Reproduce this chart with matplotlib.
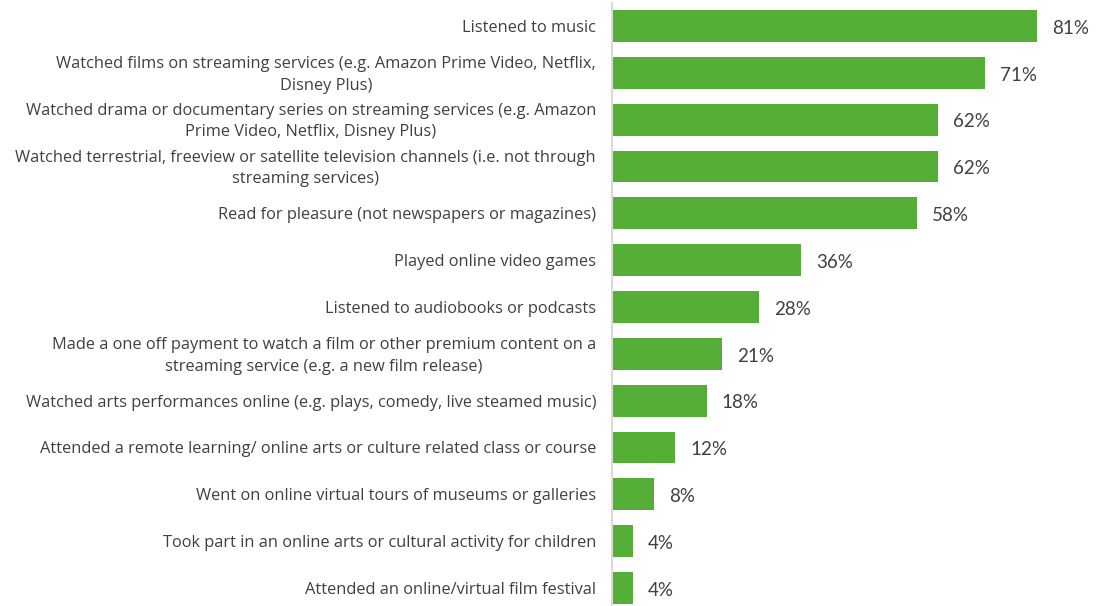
import numpy as np
import matplotlib.pyplot as plt

plt.close('all')

#%% Survey data (share of respondents, %)
activities = [
    'Listened to music',
    'Watched films on streaming services (e.g. Amazon Prime Video, Netflix,\nDisney Plus)',
    'Watched drama or documentary series on streaming services (e.g. Amazon\nPrime Video, Netflix, Disney Plus)',
    'Watched terrestrial, freeview or satellite television channels (i.e. not through\nstreaming services)',
    'Read for pleasure (not newspapers or magazines)',
    'Played online video games',
    'Listened to audiobooks or podcasts',
    'Made a one off payment to watch a film or other premium content on a\nstreaming service (e.g. a new film release)',
    'Watched arts performances online (e.g. plays, comedy, live steamed music)',
    'Attended a remote learning/ online arts or culture related class or course',
    'Went on online virtual tours of museums or galleries',
    'Took part in an online arts or cultural activity for children',
    'Attended an online/virtual film festival',
]
share = [81, 71, 62, 62, 58, 36, 28, 21, 18, 12, 8, 4, 4]

bar_col = '#55AE35'
txt_col = '#404040'

plt.rcParams['font.family'] = ['Lato', 'DejaVu Sans']

fig = plt.figure(figsize=(10.99, 6.06), dpi=100)
ax = fig.add_axes([612/1099, 0, 472.5/1099, 603/606])

y = np.arange(len(share))
ax.barh(y, share, height=0.68, color=bar_col, zorder=2)

# value labels just right of each bar
for yi, v in zip(y, share):
    ax.text(v + 2.9, yi + 0.05, f'{v}%', va='center', ha='left',
            fontsize=13.5, color=txt_col)

# category labels, centred lines, block ending just left of the axis
for yi, lab in zip(y, activities):
    ax.annotate(lab, xy=(0, yi), xycoords=('axes fraction', 'data'),
                xytext=(-16, -2), textcoords='offset pixels',
                ha='right', va='center', multialignment='center',
                family=['Open Sans', 'DejaVu Sans'],
                fontsize=11.8, color=txt_col, linespacing=1.45)

ax.set_xlim(0, 90)
ax.set_ylim(12.385, -0.491)
ax.set_xticks([])
ax.set_yticks([])
for s in ['top', 'right', 'bottom']:
    ax.spines[s].set_visible(False)
ax.spines['left'].set_color('#D9D9D9')
ax.spines['left'].set_linewidth(1.5)

plt.savefig('out.png', dpi=100)
